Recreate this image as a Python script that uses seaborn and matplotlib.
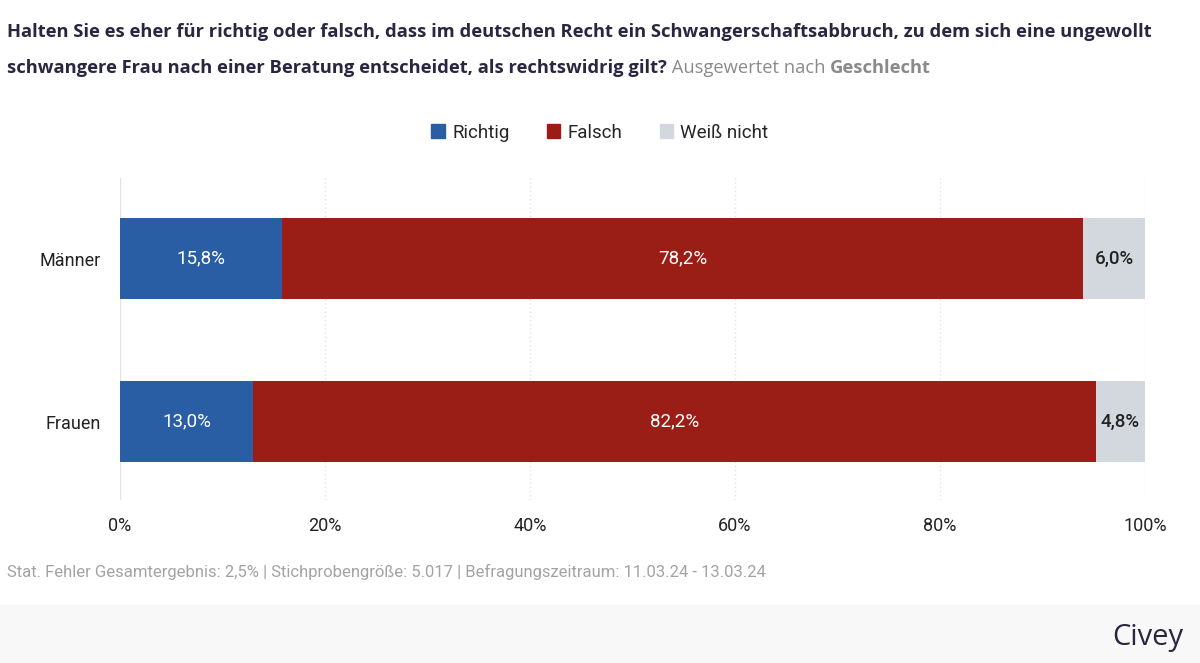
import matplotlib
matplotlib.use("Agg")
import matplotlib.pyplot as plt
import matplotlib.patches as mpatches
import numpy as np
import pandas as pd
import seaborn as sns

# Daten
gruppen = ["Männer", "Frauen"]
antworten = ["Richtig", "Falsch", "Weiß nicht"]
richtig = [15.8, 13.0]
falsch = [78.2, 82.2]
weiss_nicht = [6.0, 4.8]
x_ticks = [0, 20, 40, 60, 80, 100]

farben = ["#2a5ea4", "#9a1e16", "#d3d8de"]
text_farben = ["white", "white", "#222222"]
navy = "#2b2640"
titel_font = ["Open Sans", "DejaVu Sans"]

sns.set_theme(style="white")
plt.rcParams['font.family'] = ['Roboto', 'DejaVu Sans']

werte = np.array([richtig, falsch, weiss_nicht])  # [antwort x gruppe]
kumuliert = np.cumsum(werte, axis=0)

fig = plt.figure(figsize=(12, 6.63), dpi=100)
ax = fig.add_axes([0.1, 0.246, 0.854, 0.4855])

# gestapelte Balken: von hinten nach vorne zeichnen
for i in reversed(range(len(antworten))):
    df = pd.DataFrame({"gruppe": gruppen, "wert": kumuliert[i]})
    sns.barplot(data=df, x="wert", y="gruppe", orient="h", color=farben[i],
                width=0.5, saturation=1, ax=ax, zorder=3, linewidth=0)

# Beschriftungen in den Balken
for i in range(len(antworten)):
    for j in range(len(gruppen)):
        start = kumuliert[i][j] - werte[i][j]
        mitte = start + werte[i][j] / 2
        txt = f"{werte[i][j]:.1f}%".replace(".", ",")
        ax.text(mitte, j, txt, ha="center", va="center", color=text_farben[i],
                fontsize=13.5, zorder=5,
                fontweight="medium" if i == 2 else "normal")

ax.set_xlim(0, 100)
ax.set_ylim(1.48, -0.494)
ax.set_xticks(x_ticks)
ax.set_xticklabels([f"{t}%" for t in x_ticks], fontsize=13, color="#222222")
ax.tick_params(axis="y", labelsize=13, labelcolor="#222222", length=0, pad=14)
ax.tick_params(axis="x", length=0, pad=12)
ax.set_xlabel("")
ax.set_ylabel("")
for s in ax.spines.values():
    s.set_visible(False)

# Gitterlinien
for t in x_ticks:
    if t == 0:
        ax.axvline(t, color="#e3e3e3", lw=1, zorder=1)
    else:
        ax.axvline(t, color="#e3e3e3", lw=1, ls=(0, (1, 2)), zorder=1)

# Titel
t1 = fig.text(0.006, 0.951, "Halten Sie es eher für richtig oder falsch, dass im deutschen Recht ein Schwangerschaftsabbruch, zu dem sich eine ungewollt",
              fontsize=13.2, fontweight="bold", color=navy, family=titel_font, va="center")
t2 = fig.text(0.006, 0.897, "schwangere Frau nach einer Beratung entscheidet, als rechtswidrig gilt?",
              fontsize=13.2, fontweight="bold", color=navy, family=titel_font, va="center")
t3 = fig.text(0, 0.897, " Ausgewertet nach ", fontsize=13.2, color="#8a8a8a",
              family=titel_font, va="center")
fig.canvas.draw()
r = fig.canvas.get_renderer()
inv = fig.transFigure.inverted()
x3 = inv.transform((t2.get_window_extent(r).x1, 0))[0]
t3.set_position((x3, 0.897))
x4 = inv.transform((t3.get_window_extent(r).x1, 0))[0]
fig.text(x4, 0.897, "Geschlecht", fontsize=13.2, fontweight="bold", color="#8a8a8a",
         family=titel_font, va="center")

# Legende
handles = [mpatches.FancyBboxPatch((0, 0), 1, 1, boxstyle="round,pad=0.1", color=c) for c in farben]
fig.legend(handles, antworten, loc="center", bbox_to_anchor=(0.5, 0.8), ncol=3,
           frameon=False, fontsize=13.5, handlelength=0.7, handleheight=0.7,
           handletextpad=0.4, columnspacing=2.0)

# Fußzeile
fig.text(0.006, 0.137, "Stat. Fehler Gesamtergebnis: 2,5% | Stichprobengröße: 5.017 | Befragungszeitraum: 11.03.24 - 13.03.24",
         fontsize=12, color="#a3a3a3", va="center")
fig.patches.append(mpatches.Rectangle((0, 0), 1, 58 / 663, transform=fig.transFigure,
                                      color="#f8f8f8", zorder=0))
fig.text(0.986, 0.038, "Civey", fontsize=21, color=navy, ha="right", va="center",
         family=titel_font)

fig.savefig("out.png", dpi=100)
